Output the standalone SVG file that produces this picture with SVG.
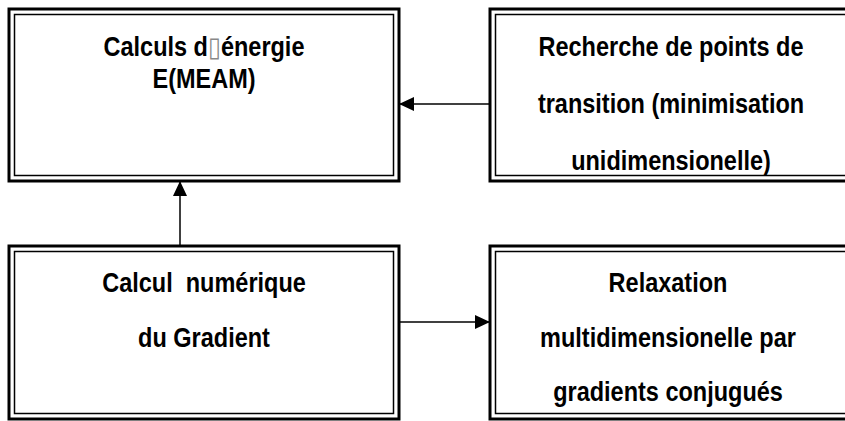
<svg xmlns="http://www.w3.org/2000/svg" width="845" height="421" viewBox="0 0 845 421">
<style>
.o{fill:none;stroke:#000;stroke-width:3}
.i{fill:none;stroke:#000;stroke-width:1.5}
.t{font-family:"Liberation Sans",Arial,sans-serif;font-weight:bold;font-size:23.5px;fill:#000;text-anchor:middle}
.c{fill:none;stroke:#000;stroke-width:1.5}
.tofu{font-family:"DejaVu Sans",sans-serif;font-weight:normal;fill:#888}
</style>
<defs>
<marker id="ah" viewBox="0 0 15 14" refX="15" refY="7" markerWidth="15" markerHeight="14" markerUnits="userSpaceOnUse" orient="auto">
<path d="M0,0 L15,7 L0,14 Z" fill="#000"/>
</marker>
</defs>
<g id="energie">
<rect class="o" x="9" y="9" width="390" height="172"/>
<rect class="i" x="14.5" y="14.5" width="379" height="161"/>
<text class="t" transform="translate(204,56) scale(1,1.15)">Calculs d<tspan class="tofu">▯</tspan>énergie</text>
<text class="t" transform="translate(204,88) scale(1,1.15)">E(MEAM)</text>
</g>
<g id="recherche">
<rect class="o" x="490" y="9" width="370" height="172"/>
<rect class="i" x="495.5" y="14.5" width="370" height="161"/>
<text class="t" transform="translate(671,56) scale(1,1.15)">Recherche de points de</text>
<text class="t" transform="translate(671,113) scale(1,1.15)">transition (minimisation</text>
<text class="t" transform="translate(671,170) scale(1,1.15)">unidimensionelle)</text>
</g>
<g id="gradient">
<rect class="o" x="9" y="246" width="390" height="173"/>
<rect class="i" x="14.5" y="251.5" width="379" height="162"/>
<text class="t" transform="translate(204,292) scale(1,1.15)" xml:space="preserve">Calcul  numérique</text>
<text class="t" transform="translate(204,347) scale(1,1.15)">du Gradient</text>
</g>
<g id="relaxation">
<rect class="o" x="490" y="246" width="370" height="173"/>
<rect class="i" x="495.5" y="251.5" width="370" height="162"/>
<text class="t" transform="translate(668,292) scale(1,1.15)">Relaxation</text>
<text class="t" transform="translate(668,347) scale(1,1.15)">multidimensionelle par</text>
<text class="t" transform="translate(668,401) scale(1,1.15)">gradients conjugués</text>
</g>
<g id="connectors">
<line class="c" x1="180" y1="246" x2="180" y2="181" marker-end="url(#ah)"/>
<line class="c" x1="490" y1="104" x2="399" y2="104" marker-end="url(#ah)"/>
<line class="c" x1="399" y1="322" x2="490" y2="322" marker-end="url(#ah)"/>
</g>
</svg>
